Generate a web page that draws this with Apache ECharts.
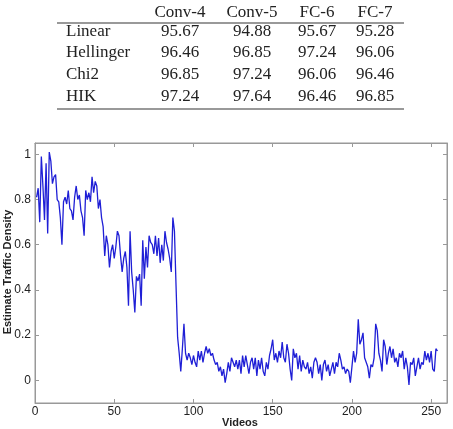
<!DOCTYPE html>
<html>
<head>
<meta charset="utf-8">
<script src="https://cdn.jsdelivr.net/npm/echarts@6/dist/echarts.min.js"></script>
<style>
  html, body { margin: 0; padding: 0; background: #fff; }
  #main { width: 453px; height: 429px; }
</style>
</head>
<body>
<div id="main"></div>
<script>
// table data
const tableCols = ['Conv-4', 'Conv-5', 'FC-6', 'FC-7'];
const tableRows = ['Linear', 'Hellinger', 'Chi2', 'HIK'];
const linearVals = ['95.67', '94.88', '95.67', '95.28'];
const hellingerVals = ['96.46', '96.85', '97.24', '96.06'];
const chi2Vals = ['96.85', '97.24', '96.06', '96.46'];
const hikVals = ['97.24', '97.64', '96.46', '96.85'];

// chart data: estimated density per video (videos 1..254)
const density = [
  0.81, 0.85, 0.70, 0.99, 0.86, 0.71, 0.96, 0.65, 1.01, 0.97,
  0.87, 0.90, 0.91, 0.80, 0.79, 0.72, 0.60, 0.79, 0.81, 0.78,
  0.84, 0.76, 0.75, 0.71, 0.81, 0.86, 0.80, 0.82, 0.75, 0.72,
  0.64, 0.84, 0.80, 0.83, 0.79, 0.90, 0.83, 0.88, 0.86, 0.76,
  0.80, 0.72, 0.68, 0.55, 0.64, 0.60, 0.50, 0.57, 0.60, 0.54,
  0.59, 0.66, 0.64, 0.55, 0.48, 0.54, 0.57, 0.50, 0.33, 0.66,
  0.48, 0.40, 0.30, 0.46, 0.44, 0.47, 0.33, 0.62, 0.45, 0.59,
  0.50, 0.64, 0.61, 0.60, 0.56, 0.64, 0.55, 0.63, 0.52, 0.60,
  0.53, 0.66, 0.61, 0.58, 0.54, 0.48, 0.72, 0.66, 0.42, 0.19,
  0.12, 0.04, 0.14, 0.25, 0.12, 0.09, 0.12, 0.10, 0.07, 0.11,
  0.08, 0.06, 0.13, 0.09, 0.13, 0.08, 0.12, 0.15, 0.12, 0.14,
  0.11, 0.12, 0.09, 0.07, 0.08, 0.04, 0.06, 0.02, 0.05, -0.01,
  0.03, 0.08, 0.04, 0.10, 0.08, 0.06, 0.09, 0.05, 0.09, 0.03,
  0.11, 0.06, 0.11, 0.07, 0.03, 0.08, 0.10, 0.05, 0.10, 0.02,
  0.09, 0.05, 0.10, 0.04, 0.02, 0.08, 0.05, 0.11, 0.14, 0.18,
  0.09, 0.12, 0.08, 0.13, 0.10, 0.17, 0.10, 0.08, 0.16, 0.12,
  0.05, 0.00, 0.14, 0.10, 0.12, 0.05, 0.11, 0.04, 0.09, 0.06,
  0.05, 0.08, 0.03, 0.06, 0.01, 0.08, 0.10, 0.08, 0.03, 0.07,
  0.00, 0.07, 0.09, 0.04, 0.07, 0.02, 0.05, 0.08, 0.03, 0.08,
  0.06, 0.12, 0.09, 0.05, 0.06, 0.03, 0.05, 0.04, -0.01, 0.06,
  0.13, 0.08, 0.12, 0.27, 0.16, 0.18, 0.21, 0.10, 0.08, 0.06,
  0.01, 0.07, 0.06, 0.10, 0.25, 0.22, 0.12, 0.09, 0.04, 0.18,
  0.15, 0.07, 0.12, 0.15, 0.10, 0.14, 0.08, 0.10, 0.06, 0.12,
  0.10, 0.13, 0.05, 0.10, 0.06, -0.02, 0.08, 0.07, 0.10, 0.02,
  0.06, 0.10, 0.05, 0.08, 0.07, 0.13, 0.09, 0.12, 0.08, 0.13,
  0.05, 0.04, 0.14, 0.13
];
const xTicks = [0, 50, 100, 150, 200, 250];
const yTicks = [0, 0.2, 0.4, 0.6, 0.8, 1];

const myChart = echarts.init(document.getElementById('main'));

// table as graphic text
const serif = '"Liberation Serif", "DejaVu Serif", serif';
const sans = '"Liberation Sans", Arial, sans-serif';
const colX = [180, 252, 317, 375];
const rowY = [32, 53, 75, 97];
const tableData = [linearVals, hellingerVals, chi2Vals, hikVals];
let graphics = [];
tableCols.forEach(function (c, i) {
  graphics.push({
    type: 'text', x: colX[i], y: 13,
    style: { text: c, font: '17px ' + serif, fill: '#222', align: 'center', verticalAlign: 'middle' }
  });
});
tableRows.forEach(function (r, j) {
  graphics.push({
    type: 'text', x: 66, y: rowY[j],
    style: { text: r, font: '17px ' + serif, fill: '#222', align: 'left', verticalAlign: 'middle' }
  });
  tableData[j].forEach(function (v, i) {
    graphics.push({
      type: 'text', x: colX[i], y: rowY[j],
      style: { text: v, font: '17px ' + serif, fill: '#222', align: 'center', verticalAlign: 'middle' }
    });
  });
});
graphics.push({ type: 'line', shape: { x1: 57, y1: 23, x2: 404, y2: 23 }, style: { stroke: '#777', lineWidth: 1.5 } });
graphics.push({ type: 'line', shape: { x1: 57, y1: 109, x2: 404, y2: 109 }, style: { stroke: '#777', lineWidth: 1.5 } });
// axis titles
graphics.push({
  type: 'text', x: 8, y: 272, rotation: Math.PI / 2,
  style: { text: 'Estimate Traffic Density', font: 'bold 11px ' + sans, fill: '#222', align: 'center', verticalAlign: 'middle' }
});
graphics.push({
  type: 'text', x: 240, y: 423,
  style: { text: 'Videos', font: 'bold 11px ' + sans, fill: '#222', align: 'center', verticalAlign: 'middle' }
});

const axisLineStyle = { color: '#999', width: 1 };

let option = {
  animation: false,
  backgroundColor: '#fff',
  graphic: graphics,
  grid: {
    left: 35, right: 6, top: 143, bottom: 26,
    outerBoundsMode: 'none', containLabel: false,
    show: true, borderColor: '#999', borderWidth: 1, backgroundColor: 'transparent'
  },
  xAxis: [{
    type: 'value', min: 0, max: 260,
    axisLine: { show: true, onZero: false, lineStyle: axisLineStyle },
    axisTick: { show: true, inside: true, length: 4, lineStyle: axisLineStyle, customValues: xTicks },
    axisLabel: { fontFamily: sans, fontSize: 12, color: '#222', margin: 3, customValues: xTicks },
    splitLine: { show: false }
  }, {
    type: 'value', min: 0, max: 260, position: 'top',
    axisLine: { show: true, onZero: false, lineStyle: axisLineStyle },
    axisTick: { show: true, inside: true, length: 4, lineStyle: axisLineStyle, customValues: xTicks },
    axisLabel: { show: false },
    splitLine: { show: false }
  }],
  yAxis: [{
    type: 'value', min: -0.1, max: 1.05,
    axisLine: { show: true, onZero: false, lineStyle: axisLineStyle },
    axisTick: { show: true, inside: true, length: 4, lineStyle: axisLineStyle, customValues: yTicks },
    axisLabel: { fontFamily: sans, fontSize: 12, color: '#222', margin: 4, customValues: yTicks },
    splitLine: { show: false }
  }, {
    type: 'value', min: -0.1, max: 1.05, position: 'right',
    axisLine: { show: true, onZero: false, lineStyle: axisLineStyle },
    axisTick: { show: true, inside: true, length: 4, lineStyle: axisLineStyle, customValues: yTicks },
    axisLabel: { show: false },
    splitLine: { show: false }
  }],
  series: [{
    type: 'line',
    data: density.map(function (v, i) { return [i + 1, v]; }),
    showSymbol: false,
    lineStyle: { color: '#1f1fd6', width: 1.3 },
    itemStyle: { color: '#1f1fd6' }
  }]
};
myChart.setOption(option);
</script>
</body>
</html>
